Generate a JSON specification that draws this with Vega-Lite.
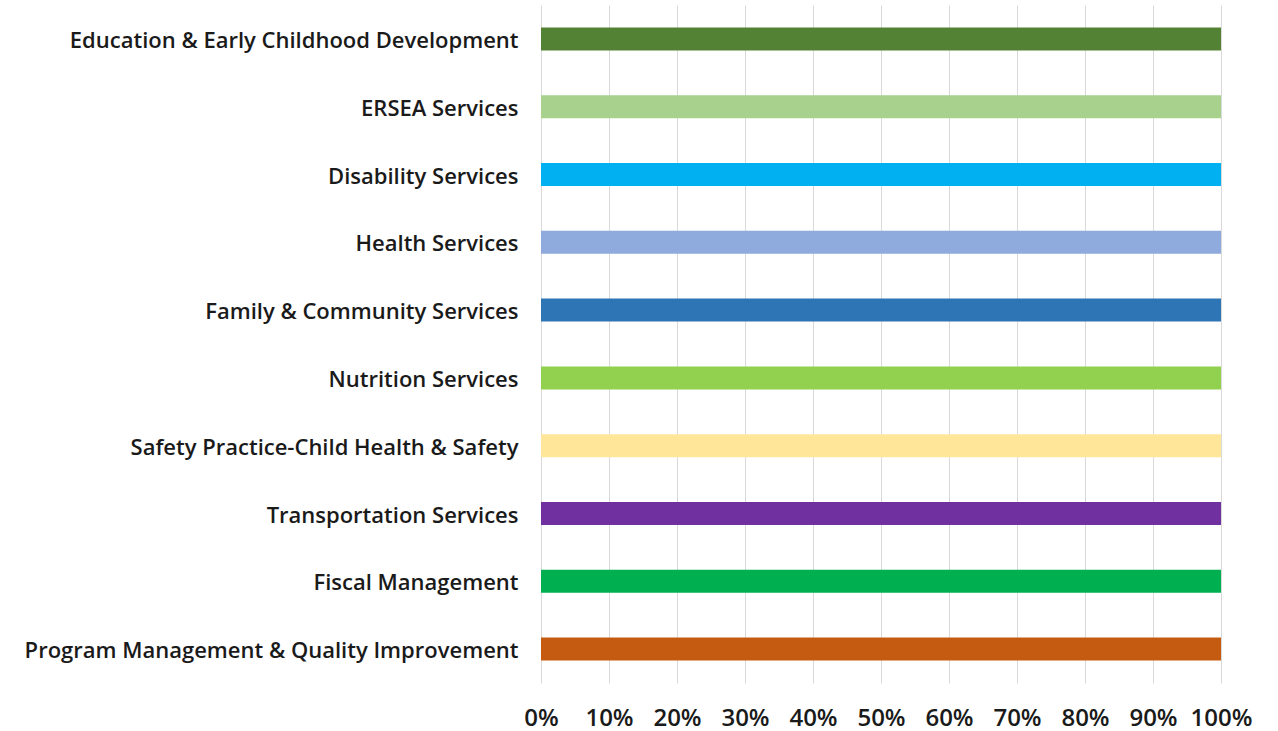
{
  "$schema": "https://vega.github.io/schema/vega-lite/v6.json",
  "autosize": {"type": "none"},
  "padding": {"left": 541, "top": 5, "right": 57, "bottom": 48},
  "width": 680,
  "height": 678,
  "background": "white",
  "config": {"view": {"stroke": null}},
  "data": {
    "values": [
      {"category": "Education & Early Childhood Development", "value": 1.0, "color": "#548235"},
      {"category": "ERSEA Services", "value": 1.0, "color": "#A9D18E"},
      {"category": "Disability Services", "value": 1.0, "color": "#00B0F0"},
      {"category": "Health Services", "value": 1.0, "color": "#8FAADC"},
      {"category": "Family & Community Services", "value": 1.0, "color": "#2E75B6"},
      {"category": "Nutrition Services", "value": 1.0, "color": "#92D050"},
      {"category": "Safety Practice-Child Health & Safety", "value": 1.0, "color": "#FFE699"},
      {"category": "Transportation Services", "value": 1.0, "color": "#7030A0"},
      {"category": "Fiscal Management", "value": 1.0, "color": "#00B050"},
      {"category": "Program Management & Quality Improvement", "value": 1.0, "color": "#C55A11"}
    ]
  },
  "mark": {"type": "bar", "height": 23},
  "encoding": {
    "y": {
      "field": "category",
      "type": "nominal",
      "sort": null,
      "scale": {"paddingInner": 0, "paddingOuter": 0},
      "axis": {
        "title": null,
        "domain": false,
        "ticks": false,
        "labelPadding": 23,
        "labelFont": "Open Sans",
        "labelFontWeight": 600,
        "labelFontSize": 22,
        "labelColor": "#1a1a1a",
        "labelLimit": 600,
        "labelOffset": 2
      }
    },
    "x": {
      "field": "value",
      "type": "quantitative",
      "scale": {"domain": [0, 1], "nice": false},
      "axis": {
        "title": null,
        "format": ".0%",
        "values": [0, 0.1, 0.2, 0.3, 0.4, 0.5, 0.6, 0.7, 0.8, 0.9, 1.0],
        "domain": false,
        "ticks": false,
        "grid": true,
        "gridColor": "#d9d9d9",
        "gridWidth": 1,
        "labelPadding": 23,
        "labelFont": "Open Sans",
        "labelFontWeight": 600,
        "labelFontSize": 24,
        "labelColor": "#1a1a1a",
        "labelFlush": false
      }
    },
    "color": {"field": "color", "type": "nominal", "scale": null, "legend": null}
  }
}
